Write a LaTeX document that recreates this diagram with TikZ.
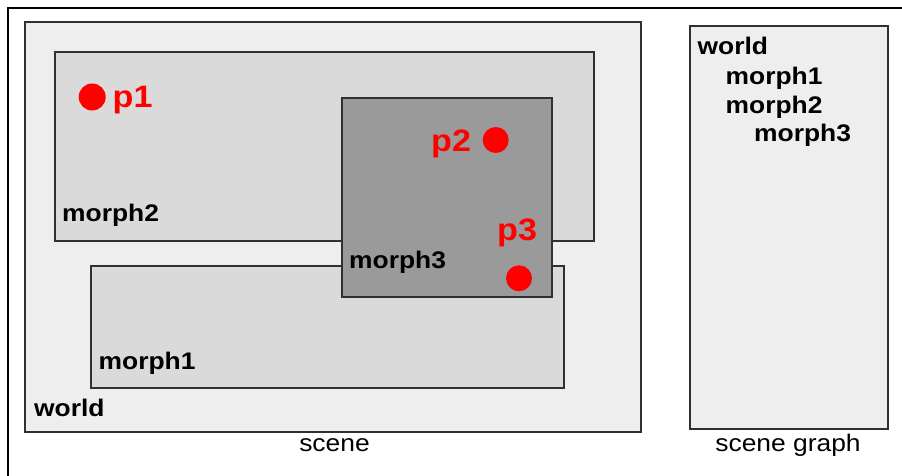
\documentclass[tikz,border=0pt]{standalone}
\usepackage{fontspec}
\setmainfont[FakeStretch=1.1]{Liberation Sans}
\definecolor{worldfill}{HTML}{EEEEEE}
\definecolor{morphfill}{HTML}{DADADA}
\definecolor{darkfill}{HTML}{9A9A9A}
\definecolor{edge}{HTML}{303030}
\definecolor{pred}{HTML}{FF0000}
\tikzset{
  box/.style={draw=edge, line width=1.4pt},
  lbl/.style={anchor=base west, inner sep=0pt, font=\fontsize{24}{27}\selectfont\bfseries, text=black},
  plbl/.style={anchor=base west, inner sep=0pt, font=\fontsize{31}{34}\selectfont\bfseries, text=pred},
  captext/.style={anchor=base, inner sep=0pt, font=\fontsize{24}{27}\selectfont, text=black},
  pdot/.style={fill=pred, draw=none}
}
\begin{document}
\begin{tikzpicture}[x=1pt,y=-1pt]
\useasboundingbox (0,0) rectangle (902,476);
\clip (0,0) rectangle (902,476);
\fill[white] (0,0) rectangle (902,476);
% outer frame
\draw[line width=1.5pt, black] (8,8) rectangle (920,500);
% world
\draw[box, fill=worldfill] (25,22) rectangle (641,432);
% morph2
\draw[box, fill=morphfill] (55,52) rectangle (594,241);
% morph1
\draw[box, fill=morphfill] (91,266) rectangle (564,388);
% morph3
\draw[box, fill=darkfill] (342,98) rectangle (552,297);
% scene graph box
\draw[box, fill=worldfill] (690,26) rectangle (888,429);

% labels in scene
\node[lbl] (lworld) at (34,416) {world};
\node[lbl] (lm2) at (62,221.5) {morph2};
\node[lbl] (lm1) at (98.5,369) {morph1};
\node[lbl] (lm3) at (349,268) {morph3};

% points
\fill[pdot] (92.2,97) circle (13.5);
\node[plbl] (p1) at (112.5,108) {p1};
\fill[pdot] (495.7,140) circle (13);
\node[plbl] (p2) at (431,151.7) {p2};
\fill[pdot] (519,278.3) circle (13);
\node[plbl] (p3) at (497,240) {p3};

% scene graph labels
\node[lbl] (gworld) at (697.5,55) {world};
\node[lbl] (gm1) at (725.5,85) {morph1};
\node[lbl] (gm2) at (725.5,113.3) {morph2};
\node[lbl] (gm3) at (754,141.7) {morph3};

% captions
\node[captext] (scene) at (334.5,451) {scene};
\node[captext] (sgraph) at (788,451.7) {scene graph};
\end{tikzpicture}
\end{document}
